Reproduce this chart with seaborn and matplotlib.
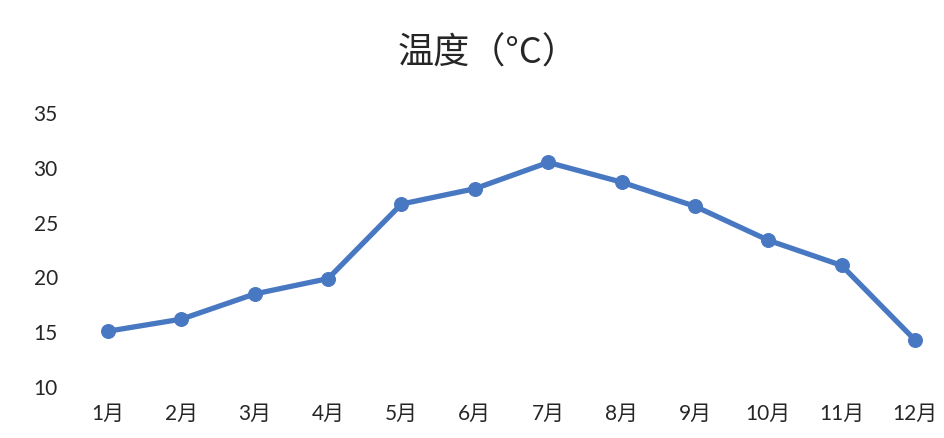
import matplotlib
matplotlib.use("Agg")
import matplotlib.pyplot as plt
import seaborn as sns
import pandas as pd

months = ["1月", "2月", "3月", "4月", "5月", "6月", "7月", "8月", "9月", "10月", "11月", "12月"]
temps = [15.0, 16.1, 18.4, 19.8, 26.6, 28.0, 30.4, 28.6, 26.4, 23.3, 21.0, 14.2]
y_ticks = [10, 15, 20, 25, 30, 35]
title = "温度（°C）"

sns.set_theme(style="white")
plt.rcParams["font.family"] = ["Lato", "Noto Sans CJK SC", "DejaVu Sans"]

df = pd.DataFrame({"month": months, "temp": temps})
df["pos"] = range(len(months))

fig = plt.figure(figsize=(9.45, 4.39), dpi=100)
ax = fig.add_axes([78.7 / 945, (439 - 387) / 439, (944.3 - 78.7) / 945, (387 - 113) / 439])

color = "#4878c2"
sns.lineplot(data=df, x="pos", y="temp", ax=ax, color=color, linewidth=3.8,
             marker="o", markersize=10, markeredgecolor=color, markerfacecolor=color)

ax.set_xlim(-0.4, 11.4)
ax.set_ylim(10, 35)
ax.set_xticks(df["pos"])
ax.set_xticklabels(months)
ax.set_yticks(y_ticks)
ax.tick_params(axis="both", length=0, labelsize=15, colors="#262626")
ax.tick_params(axis="x", pad=12)
ax.tick_params(axis="y", pad=15)
ax.set_xlabel("")
ax.set_ylabel("")
for s in ax.spines.values():
    s.set_visible(False)

fig.text(488 / 945, 1 - 54 / 439, title, ha="center", va="center", fontsize=26,
         color="#262626", family=["Noto Sans CJK SC", "DejaVu Sans"])

fig.savefig("out.png", dpi=100, facecolor="white")
